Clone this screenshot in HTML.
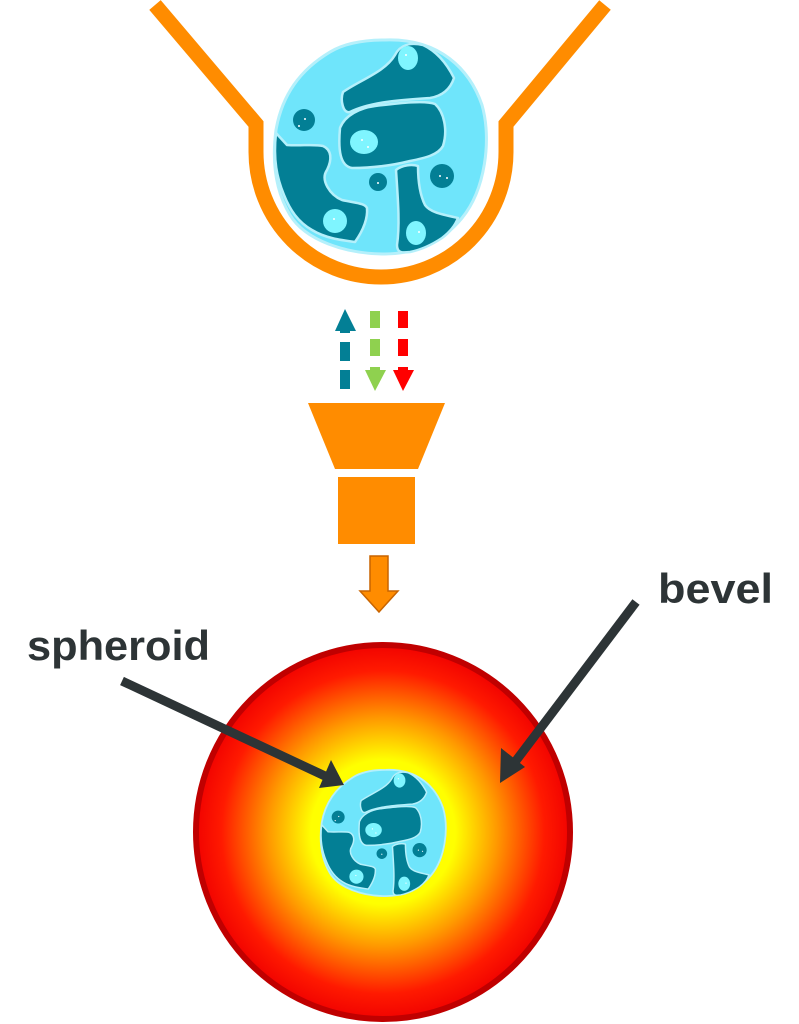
<!DOCTYPE html>
<html><head><meta charset="utf-8"><style>html,body{margin:0;padding:0;background:#fff}svg{display:block}</style></head>
<body>
<svg width="799" height="1024" viewBox="0 0 799 1024" xmlns="http://www.w3.org/2000/svg">
<defs>
<radialGradient id="rg" cx="383" cy="832" r="190" gradientUnits="userSpaceOnUse">
<stop offset="0" stop-color="#ffff00"/>
<stop offset="0.38" stop-color="#ffff00"/>
<stop offset="0.6" stop-color="#ff9900"/>
<stop offset="0.85" stop-color="#ff1a00"/>
<stop offset="1" stop-color="#f00000"/>
</radialGradient>
<g id="sph">
<path d="M385,40 C440,38 470,70 482,105 C492,140 485,190 462,218 C440,245 410,254 385,254 C345,254 305,240 290,215 C275,190 272,160 276,130 C282,95 300,70 330,52 C345,43 365,40 385,40Z" fill="#6fe5fb" stroke="#b5f0fb" stroke-width="3"/>
<g fill="#037f95" stroke="#b5f0fb" stroke-width="2.5" stroke-linejoin="round">
<path d="M343,92 C360,80 385,72 395,55 C400,45 410,42 423,45 C438,52 448,66 454,78 C450,90 442,96 430,98 C400,100 370,102 350,112 C343,114 340,100 343,92Z"/>
<path d="M340,128 C345,115 360,108 375,106 C400,103 425,100 435,104 C444,112 448,130 443,146 C438,155 425,158 410,161 C390,166 370,168 352,168 C340,166 338,150 340,128Z"/>
<path d="M276,133 L287,145 C300,146 315,144 323,146 C332,150 332,160 327,170 C320,180 330,195 342,200 C355,203 365,203 367,208 C368,220 362,232 355,242 C340,240 325,238 312,230 C298,222 290,210 284,195 C277,178 273,160 276,133Z"/>
<path d="M396,170 C402,165 412,164 418,166 C418,180 420,195 425,205 C430,212 440,214 458,218 C455,226 450,232 442,238 C430,246 420,250 410,252 C402,253 397,253 397,245 C400,225 398,200 396,170Z"/>
</g>
<g fill="#037f95"><circle cx="304" cy="120" r="11"/><circle cx="378" cy="182" r="9"/><circle cx="442" cy="176" r="12"/></g>
<g fill="#7ff5ff"><ellipse cx="408" cy="58" rx="10" ry="12"/><ellipse cx="364" cy="142" rx="14" ry="12"/><circle cx="335" cy="221" r="12"/><ellipse cx="416" cy="233" rx="10" ry="12"/></g>
<g fill="#fff"><circle cx="305" cy="119" r="1"/><circle cx="299" cy="126" r="1"/><circle cx="378" cy="183" r="1"/><circle cx="440" cy="176" r="1"/><circle cx="447" cy="178" r="1"/><circle cx="406" cy="55" r="1"/><circle cx="362" cy="140" r="1"/><circle cx="368" cy="147" r="1"/><circle cx="334" cy="219" r="1"/><circle cx="419" cy="232" r="1"/></g>
</g>
</defs>
<!-- bowl -->
<path d="M155,5 L256,124 L256,152 A125,125 0 0 0 506,152 L506,124 L605,5" fill="none" stroke="#ff8c00" stroke-width="15"/>
<use href="#sph"/>
<!-- dashed arrows -->
<g stroke-width="10">
<line x1="345" y1="389" x2="345" y2="330" stroke="#037f95" stroke-dasharray="19,9"/>
<line x1="375" y1="311" x2="375" y2="372" stroke="#8fd14f" stroke-dasharray="17,11"/>
<line x1="403" y1="311" x2="403" y2="372" stroke="#ff0000" stroke-dasharray="17,11"/>
</g>
<polygon points="345,309 335,331 356,331" fill="#037f95"/>
<polygon points="365,370 386,370 375,391" fill="#8fd14f"/>
<polygon points="393,370 414,370 403,391" fill="#ff0000"/>
<!-- funnel -->
<polygon points="308,403 445,403 418,469 335,469" fill="#ff8c00"/>
<rect x="338" y="477" width="77" height="67" fill="#ff8c00"/>
<polygon points="370,556 388,556 388,591 398,591 379,612 360,591 370,591" fill="#ff8c00" stroke="#c86400" stroke-width="1.5"/>
<!-- big circle -->
<circle cx="383" cy="832" r="187" fill="url(#rg)" stroke="#c00000" stroke-width="6"/>
<use href="#sph" transform="translate(383,833) scale(0.59) translate(-380,-147)"/>
<!-- label arrows -->
<g stroke="#2d3436" stroke-width="9">
<line x1="636" y1="602" x2="515" y2="762"/>
<line x1="122" y1="681" x2="325" y2="776"/>
</g>
<polygon points="500,783 501,748 525,767" fill="#2d3436"/>
<polygon points="344,785 319,788 331,760" fill="#2d3436"/>
<g font-family="Liberation Sans, sans-serif" font-weight="bold" fill="#2d3436">
<text x="658" y="603" font-size="42" textLength="115" lengthAdjust="spacingAndGlyphs">bevel</text>
<text x="27" y="660" font-size="42" textLength="183" lengthAdjust="spacingAndGlyphs">spheroid</text>
</g>
</svg>
</body></html>
